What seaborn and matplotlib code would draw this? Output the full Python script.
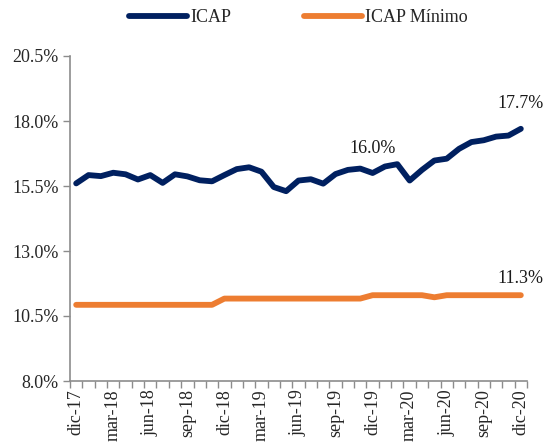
import numpy as np
import pandas as pd
import matplotlib
matplotlib.use("Agg")
import matplotlib.pyplot as plt
import seaborn as sns
from matplotlib.ticker import FixedLocator

months = ["dic-17", "ene-18", "feb-18", "mar-18", "abr-18", "may-18", "jun-18", "jul-18", "ago-18",
          "sep-18", "oct-18", "nov-18", "dic-18", "ene-19", "feb-19", "mar-19", "abr-19", "may-19",
          "jun-19", "jul-19", "ago-19", "sep-19", "oct-19", "nov-19", "dic-19", "ene-20", "feb-20",
          "mar-20", "abr-20", "may-20", "jun-20", "jul-20", "ago-20", "sep-20", "oct-20", "nov-20",
          "dic-20"]
icap = [15.60, 15.92, 15.88, 16.01, 15.95, 15.75, 15.92, 15.62, 15.95, 15.87,
        15.72, 15.68, 15.92, 16.15, 16.22, 16.05, 15.46, 15.30, 15.71, 15.76,
        15.59, 15.96, 16.12, 16.17, 16.00, 16.25, 16.34, 15.71, 16.12, 16.48,
        16.55, 16.93, 17.19, 17.26, 17.40, 17.44, 17.70]
icap_min = [10.93] * 12 + [11.17] * 12 + [11.30] * 5 + [11.22] + [11.30] * 7
series_names = ["ICAP", "ICAP Mínimo"]
yticks = [8.0, 10.5, 13.0, 15.5, 18.0, 20.5]
label_idx = [0, 3, 6, 9, 12, 15, 18, 21, 24, 27, 30, 33, 36]
annotations = [(24, "16.0%", 0), (36, "17.7%", 0), (36, "11.3%", 1)]

sns.set_theme(style="white")
plt.rcParams["font.family"] = ["Liberation Serif", "DejaVu Serif"]

n = len(months)
df = pd.DataFrame({
    "idx": list(range(n)) * 2,
    "valor": icap + icap_min,
    "serie": [series_names[0]] * n + [series_names[1]] * n,
})

fig = plt.figure(figsize=(5.5, 4.44), dpi=100)
ax = fig.add_axes([70 / 550, 1 - 381 / 444, (527 - 70) / 550, (381 - 56) / 444])

colors = {"ICAP": "#002060", "ICAP Mínimo": "#ED7D31"}
sns.lineplot(data=df, x="idx", y="valor", hue="serie", palette=colors, ax=ax,
             linewidth=4.2, legend=True)
for line in ax.get_lines():
    line.set_solid_capstyle("round")
    line.set_solid_joinstyle("round")

ax.set_xlim(-0.5, n - 0.5)
ax.set_ylim(8.0, 20.5)
ax.set_yticks(yticks)
ax.set_yticklabels([f"{v:.1f}%" for v in yticks], fontsize=13)
ax.set_xticks(label_idx)
ax.set_xticklabels([months[i] for i in label_idx], rotation=90, fontsize=13)
ax.xaxis.set_minor_locator(FixedLocator(np.arange(-0.5, n, 1.0)))
ax.tick_params(axis="x", which="major", length=0, pad=6)
ax.tick_params(axis="x", which="minor", length=5, width=1, color="#8C8C8C", direction="out", bottom=True)
ax.tick_params(axis="y", which="major", length=5, width=1, color="#8C8C8C", direction="out", left=True, pad=3)
ax.set_xlabel("")
ax.set_ylabel("")
for s in ["top", "right"]:
    ax.spines[s].set_visible(False)
for s in ["left", "bottom"]:
    ax.spines[s].set_color("#8C8C8C")
    ax.spines[s].set_linewidth(1.2)
ax.grid(False)

series_vals = [icap, icap_min]
for i, txt, si in annotations:
    off = 18 if si == 0 else 12
    ax.annotate(txt, (i, series_vals[si][i]), xytext=(0, off), textcoords="offset points",
                ha="center", va="center", fontsize=13, color="#1a1a1a")

handles, labels = ax.get_legend_handles_labels()
ax.legend_.remove()
fig.legend(handles, labels, loc="center", bbox_to_anchor=(298.5 / 550, 1 - 18 / 444),
           ncol=2, frameon=False, fontsize=13, handlelength=3.2, handletextpad=0.2,
           columnspacing=4.0)

fig.savefig("out.png", dpi=100)
